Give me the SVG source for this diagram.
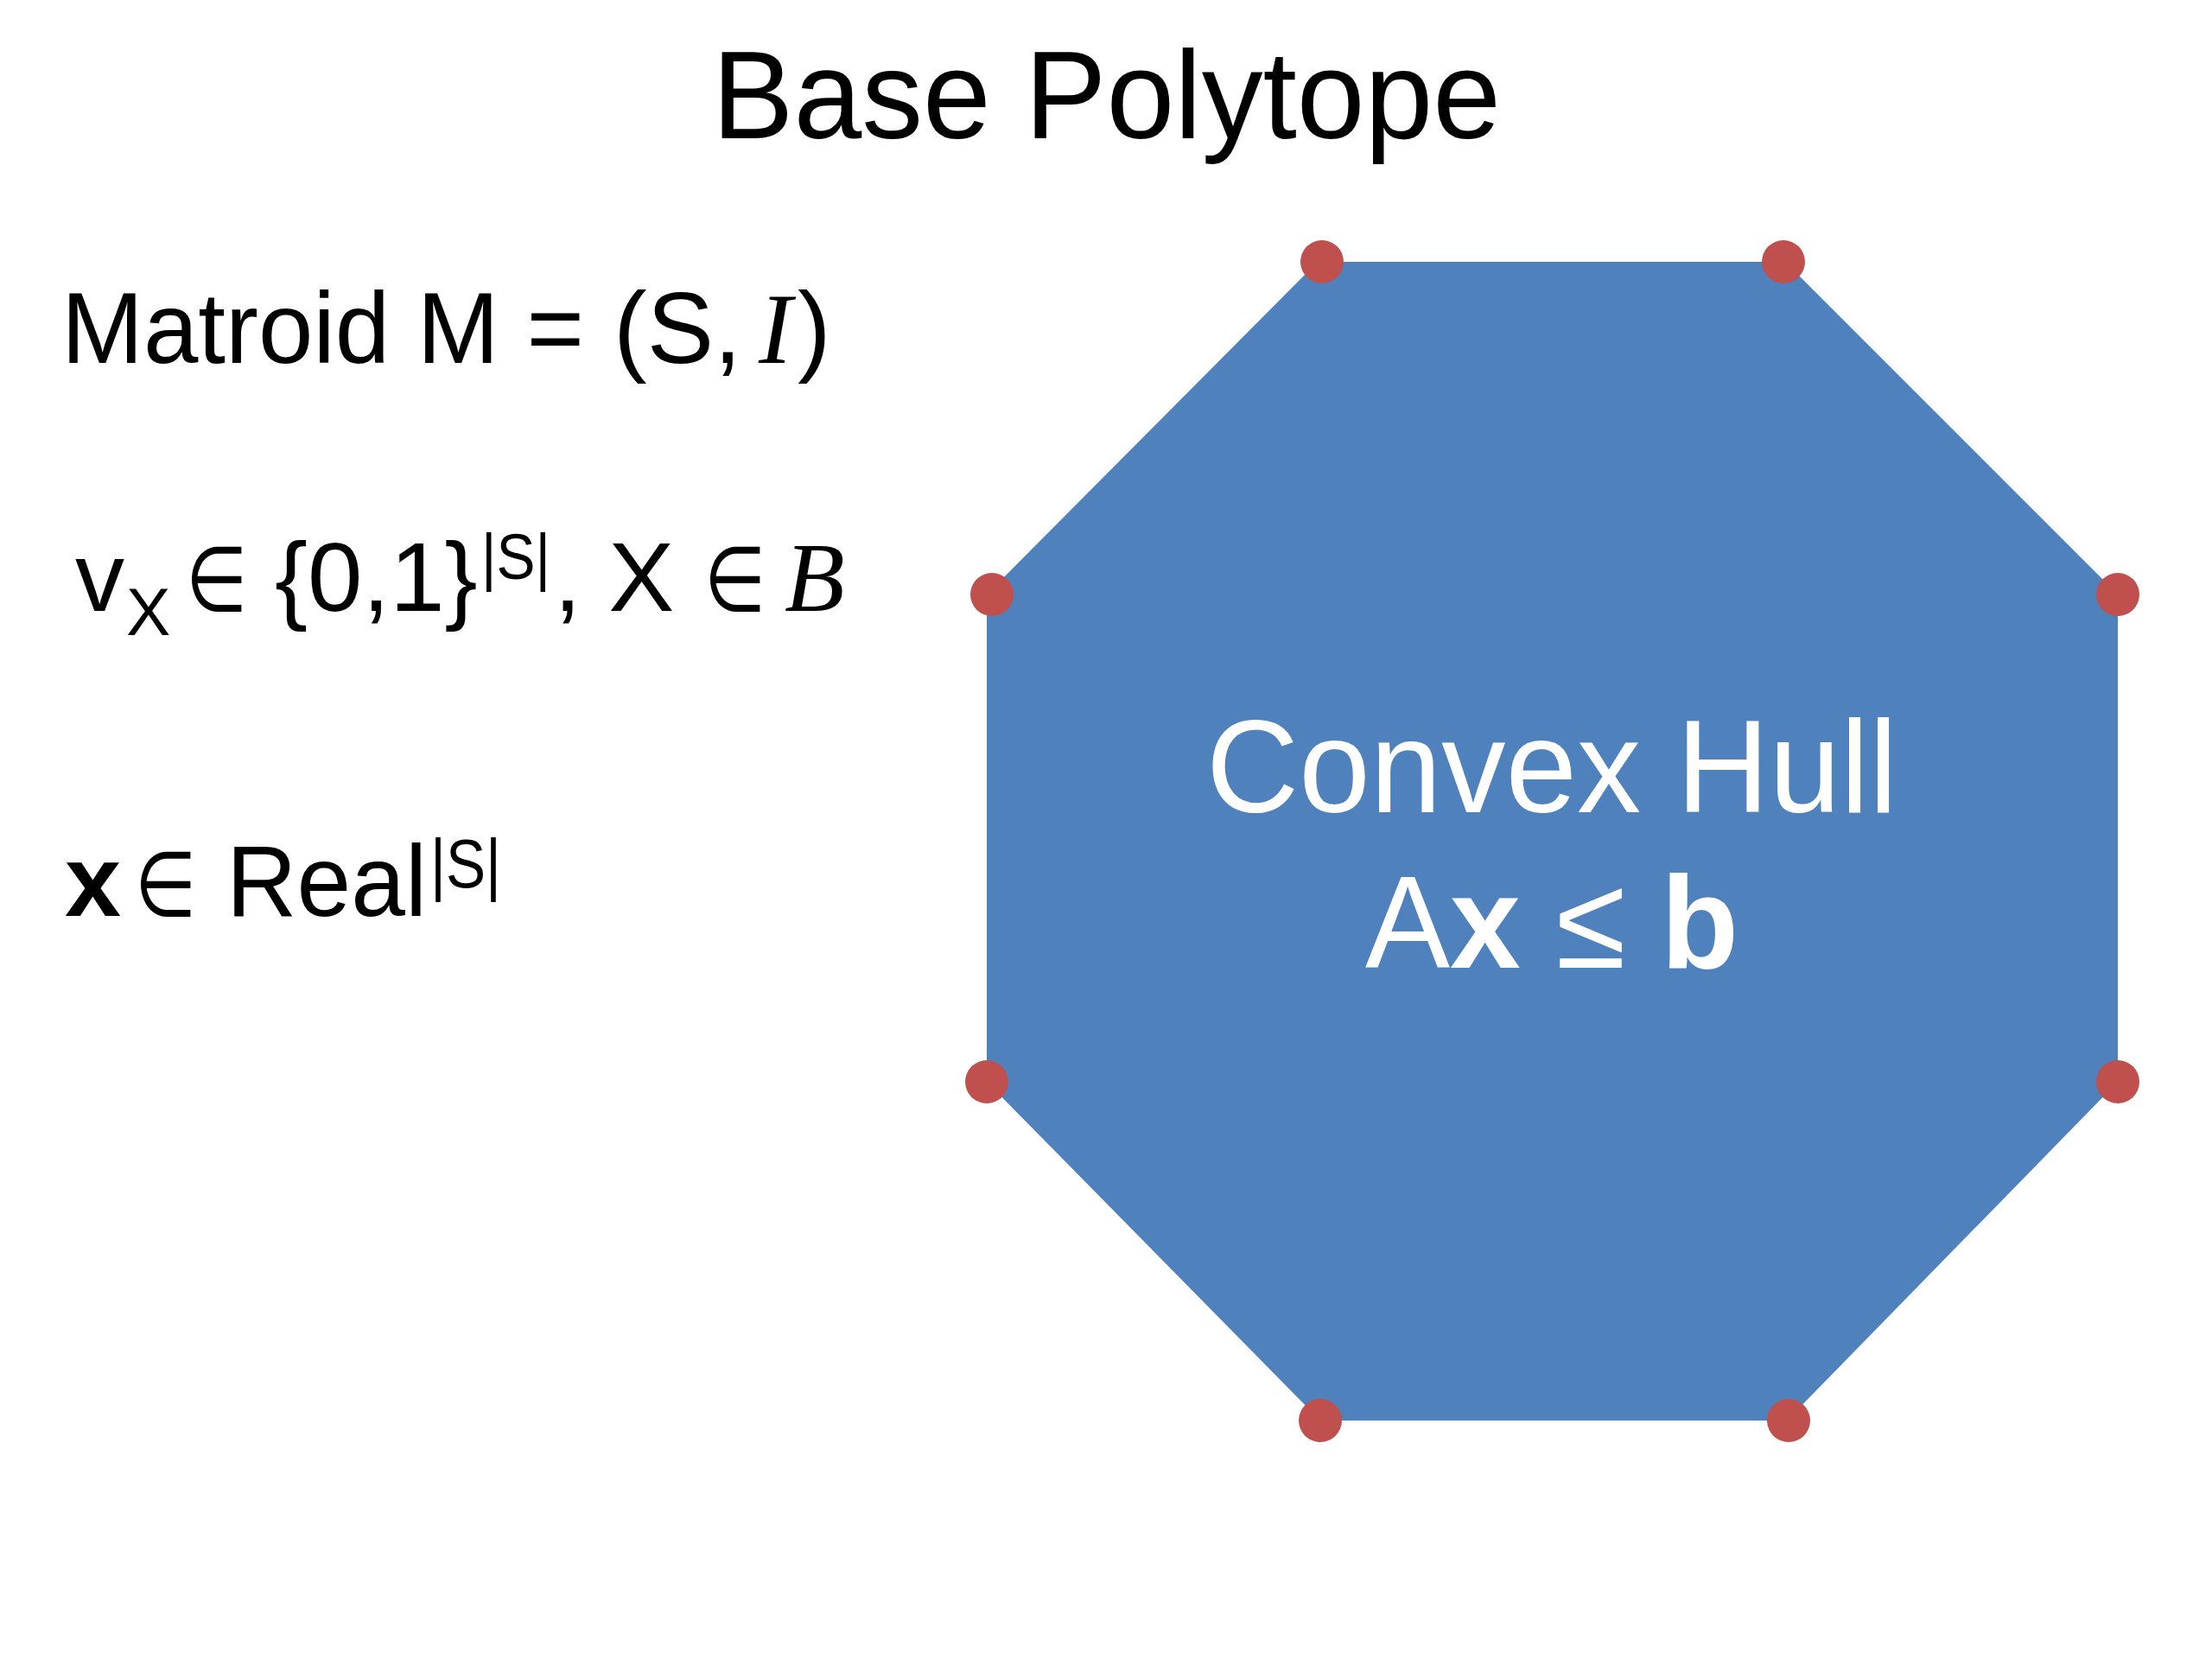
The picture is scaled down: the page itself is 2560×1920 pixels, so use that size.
<svg xmlns="http://www.w3.org/2000/svg" width="2560" height="1920" viewBox="0 0 2560 1920">
  <style>
    .sans { font-family: "Liberation Sans", Arial, "DejaVu Sans", sans-serif; fill: #000; }
    .serif-it { font-family: "Liberation Serif", "Times New Roman", serif; font-style: italic; }
    .elem { font-family: "DejaVu Sans", sans-serif; font-size: 105px; fill: #000; }
    .b { font-weight: bold; }
    .vertex { fill: #C0504D; }
    .hull { fill: #4F81BD; }
    .inhull { font-family: "Liberation Sans", Arial, sans-serif; fill: #FFFFFF; font-size: 153px; }
  </style>
  <rect x="0" y="0" width="2560" height="1920" fill="#FFFFFF"/>

  <g id="title">
    <text class="sans" x="824" y="160" font-size="144" textLength="913" lengthAdjust="spacingAndGlyphs">Base Polytope</text>
  </g>

  <g id="matroid-label">
    <text class="sans" font-size="116">
      <tspan x="71" y="420" textLength="605" lengthAdjust="spacingAndGlyphs">Matroid M =</tspan><tspan x="710" y="420">(S,</tspan><tspan x="878" y="420" class="serif-it">I</tspan><tspan x="923" y="420">)</tspan>
    </text>
  </g>

  <g id="vertex-label">
    <text class="sans" font-size="114">
      <tspan x="87" y="707">v</tspan><tspan x="146" y="735" font-size="77">X</tspan><tspan x="318" y="707">{0,1}</tspan><tspan x="557" y="670" font-size="74" textLength="80" lengthAdjust="spacingAndGlyphs">|S|</tspan><tspan x="641" y="707">, X</tspan><tspan x="908" y="707" class="serif-it">B</tspan>
    </text>
    <text class="elem" transform="translate(215,707) scale(0.78,1)">∈</text>
    <text class="elem" transform="translate(815,707) scale(0.78,1)">∈</text>
  </g>

  <g id="real-label">
    <text class="sans" font-size="117">
      <tspan x="75" y="1060" class="b">x</tspan><tspan x="262" y="1060" textLength="232" lengthAdjust="spacingAndGlyphs">Real</tspan><tspan x="498" y="1027" font-size="79" textLength="82" lengthAdjust="spacingAndGlyphs">|S|</tspan>
    </text>
    <text class="elem" transform="translate(156,1060) scale(0.78,1)">∈</text>
  </g>

  <g id="polytope">
    <polygon class="hull" points="1525,303 2066,303 2451,688 2451,1252 2068,1644 1528,1644 1142,1252 1142,688"/>
    <text class="inhull" x="1796" y="940" text-anchor="middle" textLength="800" lengthAdjust="spacingAndGlyphs">Convex Hull</text>
    <text class="inhull" x="1796" y="1120" text-anchor="middle" textLength="432" lengthAdjust="spacingAndGlyphs">A<tspan class="b">x</tspan> ≤ <tspan class="b">b</tspan></text>
  </g>

  <g id="vertices">
    <circle class="vertex" cx="1530" cy="303" r="25"/>
    <circle class="vertex" cx="2064" cy="303" r="25"/>
    <circle class="vertex" cx="2451" cy="688" r="25"/>
    <circle class="vertex" cx="2451" cy="1252" r="25"/>
    <circle class="vertex" cx="2070" cy="1644" r="25"/>
    <circle class="vertex" cx="1528" cy="1644" r="25"/>
    <circle class="vertex" cx="1142" cy="1252" r="25"/>
    <circle class="vertex" cx="1148" cy="688" r="25"/>
  </g>
</svg>
